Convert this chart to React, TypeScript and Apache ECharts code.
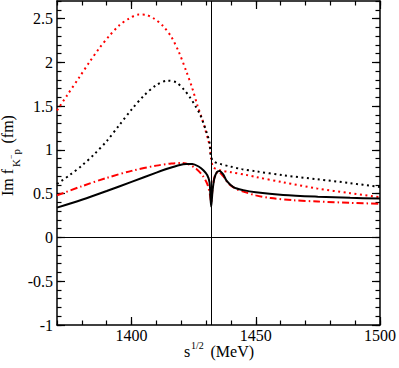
import React, { useEffect, useRef } from "react";
import * as echarts from "echarts";

const xMin = 1370;
const xMax = 1500;
const yMin = -1;
const yMax = 2.7;
const xMajorTicks = [1400, 1450, 1500];
const yMajorTicks = [-1, -0.5, 0, 0.5, 1, 1.5, 2, 2.5];
const thresholdX = 1432;

const redDotted: [number, number][] = [
  [1370, 1.45], [1374, 1.62], [1379, 1.83], [1383, 2.0], [1387, 2.16], [1391, 2.3],
  [1395, 2.42], [1399, 2.5], [1403, 2.545], [1406, 2.54], [1409, 2.5], [1412.5, 2.42], [1416, 2.29],
  [1419, 2.12], [1422, 1.9], [1424.5, 1.7], [1426.5, 1.51], [1428.2, 1.37], [1429.6, 1.24],
  [1430.9, 1.11], [1431.6, 1.02], [1432, 0.9], [1433, 0.8], [1436, 0.765], [1440, 0.745],
  [1446, 0.715], [1450, 0.69], [1461, 0.63], [1474.6, 0.56], [1488, 0.505], [1500, 0.46],
];

const blackDotted: [number, number][] = [
  [1370, 0.61], [1375, 0.71], [1380, 0.82], [1385, 0.95], [1390, 1.1], [1395, 1.28], [1400, 1.46],
  [1405, 1.62], [1410, 1.74], [1414.5, 1.79], [1418, 1.77], [1421, 1.69], [1423.5, 1.6],
  [1425.5, 1.51], [1427.5, 1.41], [1428.9, 1.31], [1430.2, 1.2], [1431.4, 1.08], [1432, 0.92],
  [1433, 0.87], [1435.6, 0.84], [1439.7, 0.81], [1444.4, 0.78], [1450, 0.755], [1461, 0.71],
  [1474.6, 0.665], [1488, 0.62], [1500, 0.575],
];

const redDashDot: [number, number][] = [
  [1370, 0.48], [1380, 0.585], [1390, 0.68], [1400, 0.76], [1410, 0.82], [1416, 0.845],
  [1420, 0.85], [1423, 0.835], [1426, 0.785], [1428.5, 0.71], [1430.5, 0.61], [1431.5, 0.5],
  [1432.05, 0.4], [1432.6, 0.56], [1433.6, 0.71], [1434.9, 0.75], [1436.9, 0.7], [1438.9, 0.62],
  [1442, 0.555], [1446, 0.515], [1450, 0.48], [1456, 0.45], [1465, 0.425], [1475, 0.41],
  [1488, 0.395], [1500, 0.385],
];

const blackSolid: [number, number][] = [
  [1370, 0.34], [1380, 0.43], [1390, 0.53], [1400, 0.635], [1410, 0.74], [1415, 0.79],
  [1419, 0.825], [1422, 0.84], [1424.5, 0.84], [1427, 0.81], [1429, 0.765], [1430.5, 0.71],
  [1431.4, 0.63], [1432.05, 0.35], [1432.6, 0.53], [1433.3, 0.67], [1434.3, 0.745], [1435.4, 0.76],
  [1436.9, 0.72], [1438.3, 0.645], [1441, 0.575], [1445, 0.54], [1450, 0.515], [1461, 0.485],
  [1475, 0.465], [1488, 0.452], [1500, 0.445],
];

const FONT = "Liberation Serif";

export default function App() {
  const ref = useRef<HTMLDivElement>(null);
  useEffect(() => {
    if (!ref.current) return;
    const chart = echarts.init(ref.current, undefined, { renderer: "svg" });
    const lineC = { color: "#000", width: 1.5 };
    const tickC = { color: "#000", width: 1.2 };
    const isMajor = (v: number, list: number[]) => list.some((t) => Math.abs(t - v) < 1e-6);
    const mkX = (pos: string, major: boolean, labels: boolean) => ({
      type: "value",
      min: xMin,
      max: xMax,
      interval: 10,
      position: pos,
      axisLine: { show: !major, onZero: false, lineStyle: lineC },
      axisTick: major
        ? { show: true, inside: true, length: 8, customValues: xMajorTicks, lineStyle: tickC }
        : { show: true, inside: true, length: 4.5, lineStyle: tickC },
      axisLabel: labels
        ? {
            show: true,
            fontFamily: FONT,
            fontSize: 16,
            color: "#000",
            margin: 2,
            showMinLabel: true,
            showMaxLabel: true,
            formatter: (v: number) => (isMajor(v, xMajorTicks) ? String(Math.round(v)) : ""),
          }
        : { show: false },
      splitLine: { show: false },
    });
    const mkY = (pos: string, major: boolean, labels: boolean) => ({
      type: "value",
      min: yMin,
      max: yMax,
      interval: 0.1,
      position: pos,
      axisLine: { show: !major, onZero: false, lineStyle: lineC },
      axisTick: major
        ? { show: true, inside: true, length: 8, customValues: yMajorTicks, lineStyle: tickC }
        : { show: true, inside: true, length: 4.5, lineStyle: tickC },
      axisLabel: labels
        ? {
            show: true,
            fontFamily: FONT,
            fontSize: 16,
            color: "#000",
            margin: 4,
            formatter: (v: number) => (isMajor(v, yMajorTicks) ? String(Math.round(v * 10) / 10) : ""),
          }
        : { show: false },
      splitLine: { show: false },
    });
    const lineSeries = (data: [number, number][], color: string, type: any, width: number) => ({
      type: "line",
      data,
      xAxisIndex: 0,
      yAxisIndex: 0,
      showSymbol: false,
      symbol: "none",
      smooth: 0.3,
      lineStyle: { color, type, width },
      z: 3,
    });
    const t = (text: string, x: number, y: number, size: number) => ({
      type: "text",
      x,
      y,
      style: { text, fontFamily: FONT, fontSize: size, fill: "#000", verticalAlign: "middle" },
    });
    chart.setOption({
      animation: false,
      backgroundColor: "#fff",
      grid: { left: 57, right: 18, top: 1, bottom: 43, containLabel: false },
      xAxis: [mkX("bottom", false, true), mkX("bottom", true, false), mkX("top", false, false), mkX("top", true, false)],
      yAxis: [mkY("left", false, true), mkY("left", true, false), mkY("right", false, false), mkY("right", true, false)],
      series: [
        {
          ...lineSeries(redDotted, "#ff0000", [2, 3.5], 2),
          markLine: {
            silent: true,
            symbol: ["none", "none"],
            label: { show: false },
            lineStyle: { color: "#000", type: "solid", width: 1 },
            data: [{ xAxis: thresholdX }, { yAxis: 0 }],
          },
        },
        lineSeries(blackDotted, "#000", [2, 3.5], 2),
        lineSeries(redDashDot, "#ff0000", [7, 3, 1.5, 3], 2),
        lineSeries(blackSolid, "#000", "solid", 2),
      ],
      graphic: [
        {
          type: "group",
          x: 184,
          y: 351.6,
          children: [t("s", 0, 0, 16), t("1/2", 7, -6, 10), t("(MeV)", 26.5, 0, 16)],
        },
        {
          type: "group",
          x: 7.1,
          y: 196,
          rotation: Math.PI / 2,
          children: [
            t("Im f", 0, 0, 16),
            t("K", 29, 9, 11),
            t("\u2212", 37, 4, 8),
            t("p", 41.5, 9, 11),
            t("(fm)", 52.5, 0, 16),
          ],
        },
      ],
    });
    return () => chart.dispose();
  }, []);
  return <div ref={ref} style={{ position: "absolute", left: 0, top: 0, width: 399, height: 368 }} />;
}
